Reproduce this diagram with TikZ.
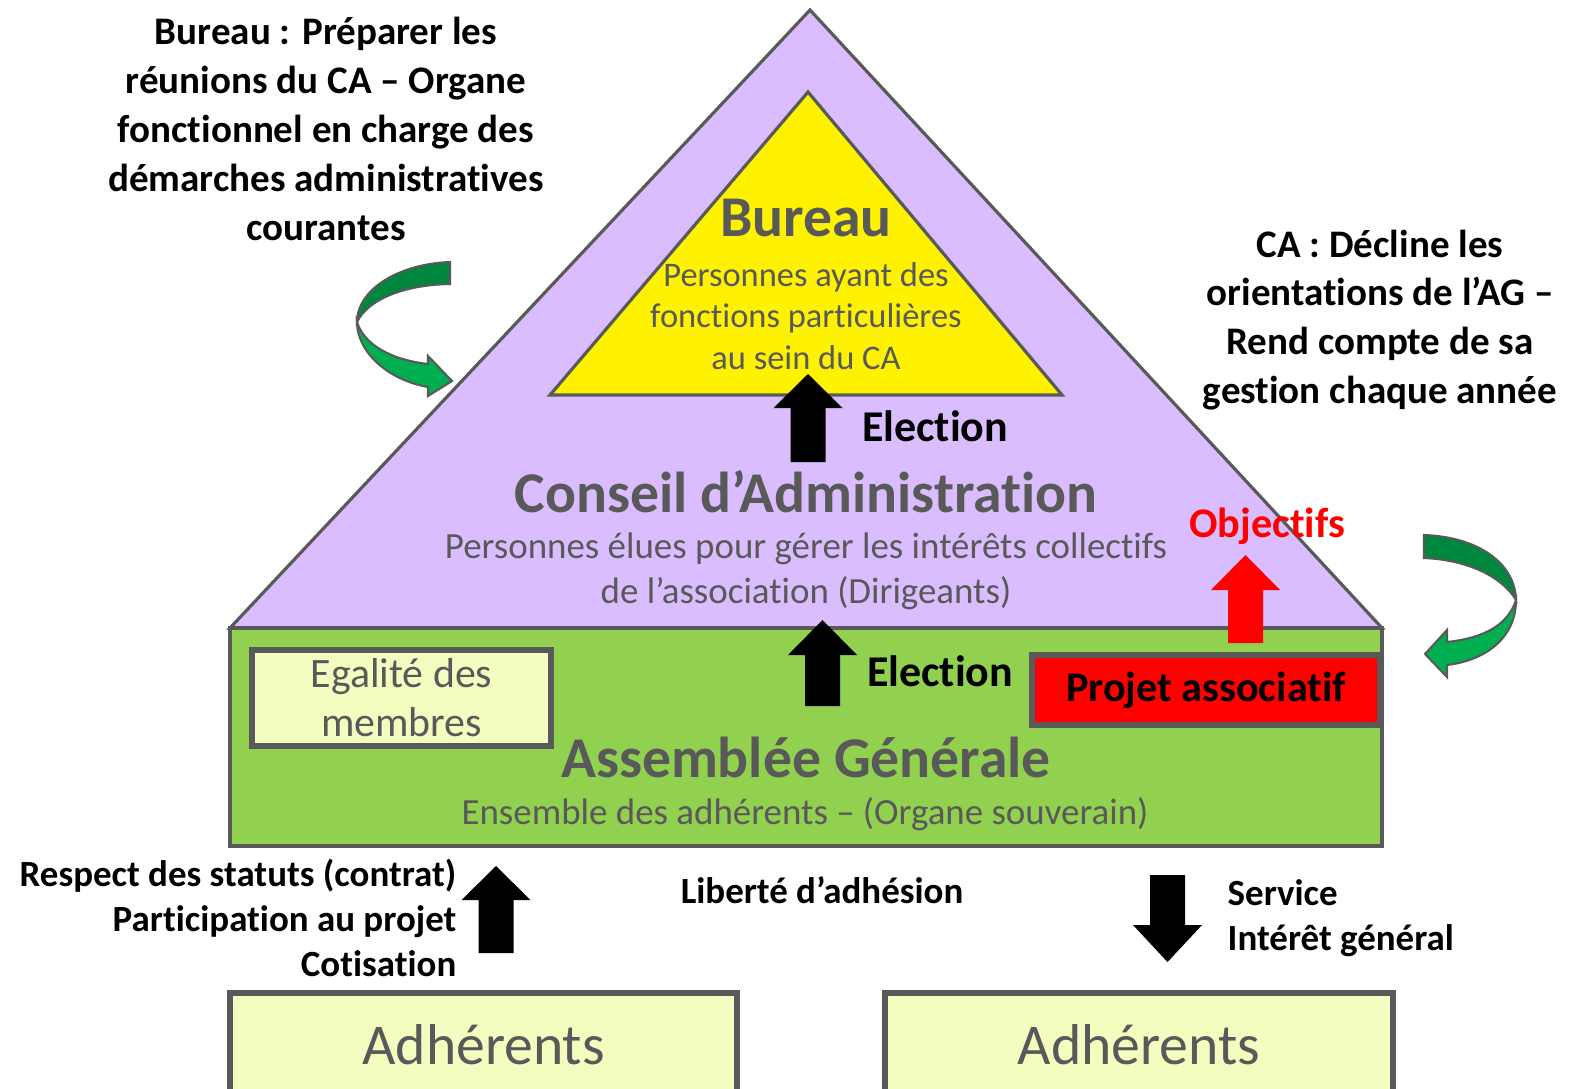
\documentclass[tikz,border=0pt]{standalone}
\usepackage{fontspec}
\setmainfont{Carlito}[RawFeature={-liga;-clig;-dlig;-calt;-rlig;-hlig}]
\usetikzlibrary{positioning}
\definecolor{txtgray}{HTML}{595959}
\definecolor{lavender}{RGB}{217,189,255}
\definecolor{leafgreen}{HTML}{92D050}
\definecolor{paleyellow}{RGB}{245,252,192}
\definecolor{darkgreen}{HTML}{00873E}
\definecolor{lightgreen}{HTML}{00B050}
\newcommand{\blockarrow}[5]{\fill[#5] (#1-17.5,#2)--(#1-17.5,#3)--(#1-34.5,#3)--(#1,#4)--(#1+34.5,#3)--(#1+17.5,#3)--(#1+17.5,#2)--cycle;}
\begin{document}
\begin{tikzpicture}[x=0.01cm,y=-0.01cm,line join=miter,every node/.style={inner sep=0pt},
		edge/.style={draw=txtgray,line width=0.9pt},
		boxed/.style={draw=txtgray,line width=1.6pt,fill=paleyellow,text=txtgray},
		twist/.style={draw=txtgray,line width=0.6pt},
		title/.style={text=txtgray,font=\fontsize{16.4}{20}\selectfont\bfseries},
		sub/.style={text=txtgray,align=center,font=\fontsize{10.5}{12.8}\selectfont},
		note/.style={align=center,font=\fontsize{11.1}{13.9}\selectfont\bfseries},
		flow/.style={font=\fontsize{10.5}{12.7}\selectfont\bfseries},
		elect/.style={font=\fontsize{12.5}{15}\selectfont\bfseries}]
	\clip (0,0) rectangle (1570,1088);
	\draw[edge,fill=lavender] (230,628)--(810,10)--(1382,628)--cycle;
	\draw[edge,fill=yellow] (550,395)--(808,92)--(1062,395)--cycle;
	\draw[edge,fill=leafgreen] (230,628) rectangle (1382,846);
	\node[title] (bureau) at (806,218) {Bureau};
	\node[sub,font=\fontsize{9.8}{11.8}\selectfont] (bureautxt) at (806,316) {Personnes ayant des\\fonctions particulières\\au sein du CA};
	\node[title] (ca) at (806,492) {Conseil d’Administration};
	\node[sub] (catxt) at (806,571) {Personnes élues pour gérer les intérêts collectifs\\de l’association (Dirigeants)};
	\node[title] (ag) at (806,757) {Assemblée Générale};
	\node[sub] (agtxt) at (805,814) {Ensemble des adhérents – (Organe souverain)};
	\node[boxed,minimum width=2.99cm,minimum height=0.96cm,align=center,font=\fontsize{11.9}{13.9}\selectfont] (egalite) at (401.5,698) {Egalité des\\membres};
	\node[boxed,fill=red,text=black,minimum width=3.48cm,minimum height=0.70cm,font=\fontsize{12}{14}\selectfont\bfseries] (projet) at (1206,690) {Projet associatif};
	\node[boxed,minimum width=5.07cm,minimum height=1.04cm,font=\fontsize{16.4}{20}\selectfont] (adhleft) at (483.5,1045) {Adhérents};
	\node[boxed,minimum width=5.08cm,minimum height=1.04cm,font=\fontsize{16.4}{20}\selectfont] (adhright) at (1139,1045) {Adhérents};
	\blockarrow{808}{462}{408}{374}{black}
	\blockarrow{822.5}{706}{655}{620}{black}
	\blockarrow{1245.5}{643}{590}{555}{red}
	\blockarrow{496}{953}{900}{866}{black}
	\blockarrow{1167.5}{875}{925}{962}{black}
	\node[elect] (elect1) at (935,426) {Election};
	\node[elect] (elect2) at (940,671) {Election};
	\node[elect,text=red,font=\fontsize{12}{15}\selectfont\bfseries] (objectifs) at (1267,526) {Objectifs};
	\node[note] (notebureau) at (326,129) {Bureau : Préparer les\\réunions du CA – Organe\\fonctionnel en charge des\\démarches administratives\\courantes};
	\node[note] (noteca) at (1380,320) {CA : Décline les\\orientations de l’AG –\\Rend compte de sa\\gestion chaque année};
	\node[flow,align=right,anchor=east] (devoirs) at (457,918) {Respect des statuts (contrat)\\Participation au projet\\Cotisation};
	\node[flow] (liberte) at (822,890) {Liberté d’adhésion};
	\node[flow,align=left,anchor=west] (service) at (1227,918) {Service\\Intérêt général};
	% fleches courbes
	\draw[twist,fill=darkgreen] (450,262) .. controls (398,264) and (357,290) .. (357,322) .. controls (368,300) and (402,285) .. (450,284)--cycle;
	\draw[twist,fill=lightgreen] (357,322) .. controls (357,352) and (388,380) .. (428,387)--(428,396)--(452,381)--(428,356)--(428,364) .. controls (392,360) and (364,345) .. (357,322)--cycle;
	\draw[twist,fill=darkgreen] (1424,535) .. controls (1478,537) and (1515,563) .. (1516,600) .. controls (1503,578) and (1470,560) .. (1424,558)--cycle;
	\draw[twist,fill=lightgreen] (1516,600) .. controls (1516,636) and (1488,660) .. (1447,665)--(1447,677)--(1425,654)--(1447,630)--(1447,642) .. controls (1484,638) and (1508,625) .. (1516,600)--cycle;
\end{tikzpicture}
\end{document}
